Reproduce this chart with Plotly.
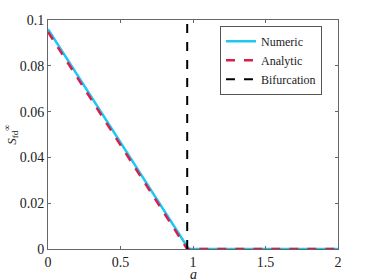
import plotly.graph_objects as go

a_num = [0, 0.97, 2]
s_num = [0.096, 0, 0]
a_ana = [0, 0.96, 2]
s_ana = [0.0948, 0, 0]
a_bif = [0.96, 0.96]
s_bif = [0, 0.1]
xticks = [0, 0.5, 1, 1.5, 2]
yticks = [0, 0.02, 0.04, 0.06, 0.08, 0.1]

serif = "Liberation Serif, DejaVu Serif, serif"

fig = go.Figure()
fig.add_trace(go.Scatter(x=a_num, y=s_num, mode="lines", name="Numeric",
                         line=dict(color="#1EC8F5", width=2.5)))
fig.add_trace(go.Scatter(x=a_ana, y=s_ana, mode="lines", name="Analytic",
                         line=dict(color="#D81E4A", width=2.5, dash="dash")))
fig.add_trace(go.Scatter(x=a_bif, y=s_bif, mode="lines", name="Bifurcation",
                         line=dict(color="black", width=2, dash="dash")))

axis_common = dict(showgrid=False, zeroline=False, showline=True, mirror="ticks",
                   linecolor="#666", linewidth=1, ticks="inside", ticklen=3,
                   tickcolor="#666", automargin=False,
                   tickfont=dict(family=serif, size=14, color="#222"))
fig.update_xaxes(range=[0, 2], tickvals=xticks, ticktext=[str(v) for v in xticks],
                 **axis_common)
fig.update_yaxes(range=[0, 0.1], tickvals=yticks, ticktext=["0", "0.02", "0.04", "0.06", "0.08", "0.1"],
                 title=dict(text="<i>S</i><sub>fd</sub><sup>∞</sup>", standoff=0,
                            font=dict(family=serif, size=13, color="#222")),
                 **axis_common)
fig.add_annotation(text="<i>a</i>", x=1, xref="x", y=0, yref="paper",
                   yanchor="top", yshift=-16, showarrow=False,
                   font=dict(family=serif, size=14, color="#222"))
fig.update_layout(width=374, height=280, margin=dict(l=48, r=36, t=20, b=31),
                  plot_bgcolor="white", paper_bgcolor="white",
                  legend=dict(x=0.593, y=0.975, xanchor="left", yanchor="top",
                              bordercolor="#555", borderwidth=1, bgcolor="white",
                              font=dict(family=serif, size=12, color="#222"),
                              tracegroupgap=0, itemwidth=30),
                  showlegend=True)
fig.write_html("out.html", config={"displayModeBar": False},
               post_script="document.body.style.margin='0px';document.body.style.overflow='hidden';")
